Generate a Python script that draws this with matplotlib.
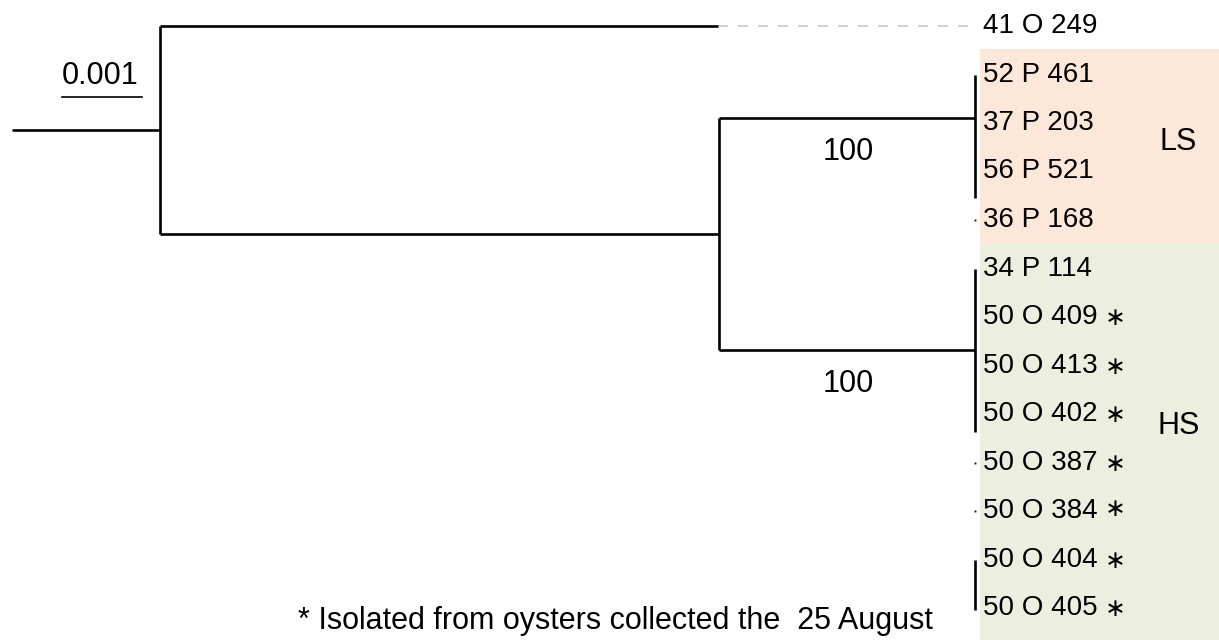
import matplotlib
matplotlib.use("Agg")
import matplotlib.pyplot as plt
from matplotlib.patches import Rectangle

# leaf labels, top to bottom (one row each)
leaves = ['41 O 249', '52 P 461', '37 P 203', '56 P 521', '36 P 168',
          '34 P 114', '50 O 409', '50 O 413', '50 O 402', '50 O 387',
          '50 O 384', '50 O 404', '50 O 405']
# mark after the name ('' = none)
marks = ['', '', '', '', '',
         '', '\u2217', '\u2217', '\u2217', '\u2217', '*', '\u2217', '\u2217']

# node depths (substitutions/site), root node at 0
root_stub = -0.00185
n1_x = 0.0
n2_x = 0.00699
tip_x = 0.01019
leaf41_x = 0.00698          # branch of 41 O 249 (rest is dashed to label)

# clade attachment rows
ls_y = 1.90
hs_y = 6.68
n2_y = (ls_y + hs_y) / 2
n1_y = (0 + n2_y) / 2

# collapsed polytomies at the tips: (row from, row to)
tip_bars = [(1.0, 3.55), (5.0, 8.37), (11.0, 12.04)]
tip_dots = [4, 9, 10]

bootstrap = [('100', ls_y), ('100', hs_y)]
# name, shaded rows from/to, label row
clades = [('LS', 0.47, 4.48, 2.39), ('HS', 4.48, 12.8, 8.25)]
clade_colors = ['#fce7d9', '#ecefdf']
scale_len = 0.001

px = 80000.0   # pixels per unit of distance
fig = plt.figure(figsize=(12.19, 6.40), dpi=100)
ax = fig.add_axes([0, 0, 1, 1])
ax.set_xlim(-160 / px, (1219 - 160) / px)
ax.set_ylim((640 - 26) / 48.5, -26 / 48.5)
ax.axis('off')

fam = ['Liberation Sans', 'DejaVu Sans']
lw = 1.9

# clade shading
for (name, y0, y1, ly), col in zip(clades, clade_colors):
    ax.add_patch(Rectangle((tip_x + 5 / px, y0), 0.01, y1 - y0,
                           facecolor=col, edgecolor='none', zorder=0))
    ax.text(tip_x + 203 / px, ly, name, fontsize=22, family=fam,
            ha='center', va='center')

# tree branches
k = dict(color='black', lw=lw, solid_capstyle='butt', zorder=2)
ax.plot([root_stub, n1_x], [n1_y, n1_y], **k)
ax.plot([n1_x, n1_x], [0, n2_y], **k)
ax.plot([n1_x, leaf41_x], [0, 0], **k)
ax.plot([leaf41_x, tip_x], [0, 0], color='#c8c8c8', lw=1.2,
        dashes=(6, 6), zorder=1)
ax.plot([n1_x, n2_x], [n2_y, n2_y], **k)
ax.plot([n2_x, n2_x], [ls_y, hs_y], **k)
ax.plot([n2_x, tip_x], [ls_y, ls_y], **k)
ax.plot([n2_x, tip_x], [hs_y, hs_y], **k)
for y0, y1 in tip_bars:
    ax.plot([tip_x, tip_x], [y0, y1], **k)
for r in tip_dots:
    ax.plot([tip_x], [r], marker='s', ms=1.3, color='black', mew=0)

# leaf labels
for i, (name, m) in enumerate(zip(leaves, marks)):
    ax.text(tip_x + 8 / px, i, name, fontsize=20, family=fam,
            ha='left', va='center')
    if m == '*':
        ax.text(tip_x + 130 / px, i - 0.04, '\u2217', fontsize=18, family=fam,
                ha='left', va='center')
    elif m:
        ax.text(tip_x + 130 / px, i + 0.03, m, fontsize=18, family=fam,
                ha='left', va='center')

# bootstrap values
for val, y in bootstrap:
    ax.text((n2_x + tip_x) / 2 + 1 / px, y + 0.7, val, fontsize=22,
            family=fam, ha='center', va='center')

# scale bar
sx0 = -98 / px
ax.plot([sx0, sx0 + scale_len], [1.47, 1.47], color='black', lw=1.2)
ax.text(sx0 + scale_len / 2 - 2 / px, 1.03, '0.001', fontsize=22,
        family=fam, ha='center', va='center')

ax.text(298 / px - 160 / px, 12.26, '* Isolated from oysters collected the  25 August',
        fontsize=22, family=fam, ha='left', va='center')

fig.savefig('out.png', dpi=100)
